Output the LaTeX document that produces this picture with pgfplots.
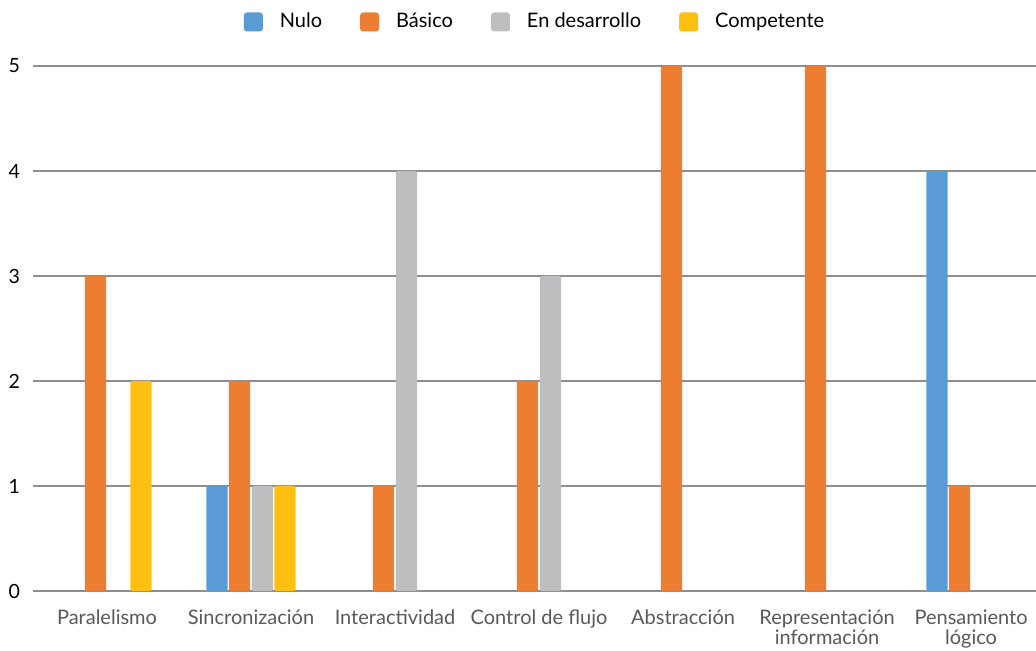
\documentclass[border=0pt]{standalone}
\usepackage{fontspec}
\setmainfont{Lato}
\usepackage{pgfplots}
\pgfplotsset{compat=1.18}

\definecolor{cNulo}{HTML}{5B9BD5}
\definecolor{cBasico}{HTML}{ED7D31}
\definecolor{cDes}{HTML}{BDBEC0}
\definecolor{cComp}{HTML}{FDC010}
\definecolor{gridc}{HTML}{8F8F8F}
\definecolor{labc}{HTML}{595959}

\begin{document}
\begin{tikzpicture}
\begin{axis}[
  scale only axis,
  width=501.5pt, height=262.5pt,
  xmin=-0.514, xmax=6.451, ymin=0, ymax=5,
  ybar, bar width=10.6pt,
  every axis plot/.append style={draw=none, rounded corners=0.8pt},
  xtick={0,...,6},
  xticklabels={Paralelismo, Sincronización, Interactividad, Control de flujo, Abstracción, {Representación\\información}, {Pensamiento\\lógico}},
  xticklabel style={align=center, text=labc, font=\fontsize{10}{10}\selectfont, yshift=-1.5pt},
  ytick={0,...,5},
  yticklabel style={font=\fontsize{9.8}{10}\selectfont, xshift=-3pt},
  /pgf/number format/assume math mode=true,
  ymajorgrids,
  major grid style={gridc, line width=0.7pt},
  axis line style={draw=none},
  tick style={draw=none},
  legend columns=4,
  legend style={draw=none, at={(0.5015,1.0838)}, anchor=center,
    font=\fontsize{10}{10}\selectfont,
    /tikz/every odd column/.append style={column sep=6.5pt},
    /tikz/every even column/.append style={column sep=17pt}},
  legend image code/.code={\fill[#1, draw=none, rounded corners=1.5pt] (0pt,-4.75pt) rectangle (9.5pt,4.75pt);},
]
\addplot+[fill=cNulo, bar shift=-17pt] coordinates {(1,1) (6,4)};
\addplot+[fill=cBasico, bar shift=-5.75pt] coordinates {(0,3) (1,2) (2,1) (3,2) (4,5) (5,5) (6,1)};
\addplot+[fill=cDes, bar shift=5.75pt] coordinates {(1,1) (2,4) (3,3)};
\addplot+[fill=cComp, bar shift=17pt] coordinates {(0,2) (1,1)};
\legend{Nulo, Básico, En desarrollo, Competente}
\end{axis}
\pgfresetboundingbox
\path (-16.5pt,-30pt) rectangle (501.5pt,295.5pt);
\end{tikzpicture}
\end{document}
